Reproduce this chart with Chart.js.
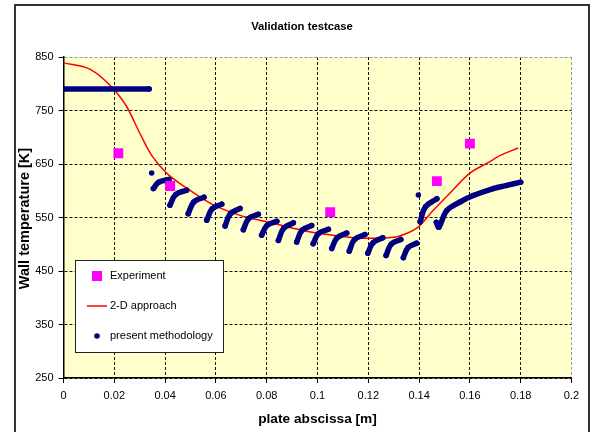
<!DOCTYPE html>
<html>
<head>
<meta charset="utf-8">
<title>Validation testcase</title>
<script src="https://cdn.jsdelivr.net/npm/chart.js@4.4.1/dist/chart.umd.min.js"></script>
<style>
  html, body { margin: 0; padding: 0; background: #fff; overflow: hidden; }
  canvas { display: block; }
</style>
</head>
<body>
<canvas id="chartId" width="603" height="432" style="width:603px;height:432px"></canvas>
<script>
// tick values / labels
const xTickValues = [0, 0.02, 0.04, 0.06, 0.08, 0.1, 0.12, 0.14, 0.16, 0.18, 0.2];
const xTickLabels = ['0', '0.02', '0.04', '0.06', '0.08', '0.1', '0.12', '0.14', '0.16', '0.18', '0.2'];
const yTickValues = [250, 350, 450, 550, 650, 750, 850];
const yTickLabels = ['250', '350', '450', '550', '650', '750', '850'];

// Experiment (measured points)
const expX = [0.0216, 0.042, 0.105, 0.147, 0.160];
const expT = [670, 609, 560, 618, 688];

// 2-D approach (red curve)
const twoDX = [0, 0.0105, 0.0183, 0.0249, 0.030, 0.0347, 0.0406, 0.0485, 0.0577, 0.0695, 0.080, 0.0904,
  0.0997, 0.106, 0.1194, 0.130, 0.1364, 0.1396, 0.1455, 0.152, 0.160, 0.1666, 0.172, 0.179];
const twoDT = [839, 827, 797, 757, 708, 666, 633, 605, 577, 554, 542, 530,
  521, 517, 511, 513, 523, 532, 563, 595, 633, 651, 666, 680];

// present methodology (null separates the runs of dots)
const methX = [0, 0.0337, null,
  0.0347, null,
  0.0354, 0.0375, 0.0415, null,
  0.0419, 0.0442, 0.0485, null,
  0.0491, 0.0513, 0.0553, null,
  0.0564, 0.0585, 0.0623, null,
  0.0636, 0.0657, 0.0695, null,
  0.0708, 0.0729, 0.0767, null,
  0.0780, 0.0801, 0.0840, null,
  0.0846, 0.0867, 0.0905, null,
  0.0918, 0.0939, 0.0977, null,
  0.0983, 0.1004, 0.1043, null,
  0.1056, 0.1077, 0.1115, null,
  0.1125, 0.1146, 0.1187, null,
  0.1198, 0.1219, 0.1257, null,
  0.1270, 0.1290, 0.1328, null,
  0.1338, 0.1357, 0.1390, null,
  0.1397, null,
  0.1404, 0.1425, 0.1470, null,
  0.1468, 0.1478, 0.1509, 0.1561, 0.1613, 0.1692, 0.1745, 0.1800];
const methT = [790, 790, null,
  633, null,
  604, 616, 621, null,
  573, 593, 601, null,
  557, 579, 588, null,
  545, 566, 575, null,
  534, 557, 567, null,
  527, 548, 556, null,
  517, 535, 543, null,
  507, 530, 540, null,
  504, 526, 535, null,
  501, 520, 528, null,
  492, 512, 521, null,
  487, 509, 518, null,
  483, 503, 512, null,
  479, 500, 509, null,
  475, 494, 502, null,
  592, null,
  542, 570, 585, null,
  541, 532, 563, 579, 591, 604, 610, 616];

const FONT = '"Liberation Sans", Arial, sans-serif';
const NAVY = '#000080';
const MAGENTA = '#FF00FF';

const toPoints = (xs, ys) => xs.map((x, i) => ({ x: x, y: ys[i] }));

// background, frame, titles and the boxed legend
const decor = {
  id: 'decor',
  beforeDraw(chart) {
    const { ctx, chartArea: a } = chart;
    ctx.save();
    ctx.fillStyle = '#ffffff';
    ctx.fillRect(0, 0, chart.width, chart.height);
    ctx.fillStyle = '#FFFFCC';
    ctx.fillRect(a.left, a.top, a.right - a.left, a.bottom - a.top);
    ctx.restore();
  },
  afterDraw(chart) {
    const { ctx, chartArea: a } = chart;
    ctx.save();
    // outer frame
    ctx.strokeStyle = '#333333';
    ctx.lineWidth = 2;
    ctx.strokeRect(15, 5, 574, 500);

    ctx.fillStyle = '#000';
    ctx.textAlign = 'center';
    ctx.textBaseline = 'middle';
    ctx.font = 'bold 11.3px ' + FONT;
    ctx.fillText('Validation testcase', 302, 27);
    ctx.font = 'bold 13.7px ' + FONT;
    ctx.fillText('plate abscissa [m]', (a.left + a.right) / 2, 419);
    ctx.save();
    ctx.translate(25, (a.top + a.bottom) / 2 + 1);
    ctx.rotate(-Math.PI / 2);
    ctx.font = 'bold 14.5px ' + FONT;
    ctx.fillText('Wall temperature [K]', 0, 0);
    ctx.restore();

    // legend box
    ctx.fillStyle = '#ffffff';
    ctx.fillRect(75.5, 260.5, 148, 92);
    ctx.strokeStyle = '#222';
    ctx.lineWidth = 1;
    ctx.strokeRect(75.5, 260.5, 148, 92);

    ctx.fillStyle = MAGENTA;
    ctx.fillRect(92, 271, 10, 10);
    ctx.strokeStyle = '#FF0000';
    ctx.lineWidth = 1.5;
    ctx.beginPath();
    ctx.moveTo(87, 306);
    ctx.lineTo(107, 306);
    ctx.stroke();
    ctx.fillStyle = NAVY;
    ctx.beginPath();
    ctx.arc(97, 336, 2.8, 0, Math.PI * 2);
    ctx.fill();

    ctx.fillStyle = '#000';
    ctx.textAlign = 'left';
    ctx.font = '11px ' + FONT;
    ctx.fillText('Experiment', 110, 276);
    ctx.fillText('2-D approach', 110, 306);
    ctx.fillText('present methodology', 110, 336);
    ctx.restore();
  }
};

const ctx = document.getElementById('chartId').getContext('2d');

const chart = new Chart(ctx, {
  type: 'scatter',
  data: {
    datasets: [
      {
        label: 'Experiment',
        data: toPoints(expX, expT),
        pointStyle: 'rect',
        pointRadius: 7,
        pointBorderWidth: 0,
        pointBackgroundColor: MAGENTA,
        showLine: false
      },
      {
        label: 'present methodology',
        data: toPoints(methX, methT),
        showLine: true,
        spanGaps: false,
        borderColor: NAVY,
        borderWidth: 5.5,
        borderCapStyle: 'round',
        borderJoinStyle: 'round',
        tension: 0.4,
        pointRadius: 2.75,
        pointBorderWidth: 0,
        pointBackgroundColor: NAVY
      },
      {
        label: '2-D approach',
        data: toPoints(twoDX, twoDT),
        showLine: true,
        borderColor: '#FF0000',
        borderWidth: 1.5,
        cubicInterpolationMode: 'monotone',
        pointRadius: 0
      }
    ]
  },
  options: {
    responsive: false,
    animation: false,
    layout: { padding: { left: 0, top: 57, right: 31.5, bottom: 0 } },
    plugins: {
      legend: { display: false },
      tooltip: { enabled: false }
    },
    scales: {
      x: {
        type: 'linear',
        min: 0,
        max: 0.2,
        afterBuildTicks: s => { s.ticks = xTickValues.map(v => ({ value: v })); },
        afterFit: s => { s.height = 54; },
        ticks: {
          color: '#000',
          font: { family: FONT, size: 11 },
          padding: 6,
          maxRotation: 0,
          autoSkip: false,
          callback: (v, i) => xTickLabels[i]
        },
        grid: {
          color: ctx2 => ctx2.index === xTickValues.length - 1 ? '#999' : '#111',
          lineWidth: 1,
          tickLength: 5,
          tickColor: '#000',
          tickBorderDash: []
        },
        border: { color: '#000', width: 1.5, dash: [3, 2] }
      },
      y: {
        min: 250,
        max: 850,
        afterBuildTicks: s => { s.ticks = yTickValues.map(v => ({ value: v })); },
        afterFit: s => { s.width = 63.5; },
        ticks: {
          color: '#000',
          font: { family: FONT, size: 11 },
          padding: 5,
          autoSkip: false,
          callback: (v, i) => yTickLabels[i]
        },
        grid: {
          color: ctx2 => ctx2.index === yTickValues.length - 1 ? '#999' : '#111',
          lineWidth: 1,
          tickLength: 5,
          tickColor: '#000',
          tickBorderDash: []
        },
        border: { color: '#000', width: 1.5, dash: [3, 2] }
      }
    }
  },
  plugins: [decor]
});
</script>
</body>
</html>
